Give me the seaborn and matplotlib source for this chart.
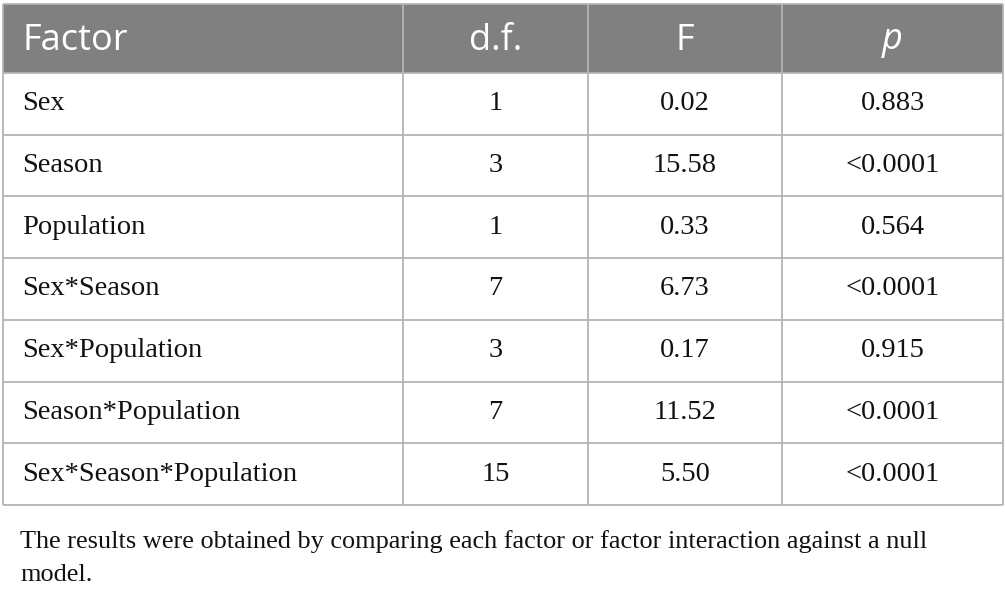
import matplotlib.pyplot as plt
import matplotlib.patches as mpatches
import seaborn as sns

sns.set_theme(style="white")

# données du tableau
columns = ["Factor", "d.f.", "F", "p"]
factors = ["Sex", "Season", "Population", "Sex*Season", "Sex*Population",
           "Season*Population", "Sex*Season*Population"]
df_values = [1, 3, 1, 7, 3, 7, 15]
f_values = ["0.02", "15.58", "0.33", "6.73", "0.17", "11.52", "5.50"]
p_values = ["0.883", "<0.0001", "0.564", "<0.0001", "0.915", "<0.0001", "<0.0001"]
caption = ("The results were obtained by comparing each factor or factor interaction against a null\n"
           "model.")

# mise en page (pixels)
col_edges = [3, 403, 588, 782, 1003]
header_top, header_bot = 4, 73
row_h = 61.7
grid_col = "#b4b4b4"
head_col = "#7f807f"

fig = plt.figure(figsize=(10.05, 5.95), dpi=100)
ax = fig.add_axes([0, 0, 1, 1])
ax.set_xlim(0, 1005)
ax.set_ylim(595, 0)
ax.axis("off")

n = len(factors)
table_bot = header_bot + n * row_h

# en-tête
ax.add_patch(mpatches.Rectangle((col_edges[0], header_top), col_edges[-1] - col_edges[0],
                                header_bot - header_top, facecolor=head_col, edgecolor="none"))

# lignes horizontales
for y in [header_top] + [header_bot + i * row_h for i in range(n + 1)]:
    ax.plot([col_edges[0], col_edges[-1]], [y, y], color=grid_col, lw=1.3, solid_capstyle="butt")
# lignes verticales
for x in col_edges:
    ax.plot([x, x], [header_top, table_bot], color=grid_col, lw=1.3, solid_capstyle="butt")

head_y = (header_top + header_bot) / 2 + 2
centers = [(col_edges[i] + col_edges[i + 1]) / 2 for i in range(4)]
hfont = dict(family="Open Sans", fontsize=26, color="white", va="center")
ax.text(col_edges[0] + 19, head_y, columns[0], ha="left", **hfont)
ax.text(centers[1], head_y, columns[1], ha="center", **hfont)
ax.text(centers[2], head_y, columns[2], ha="center", **hfont)
ax.text(centers[3], head_y, columns[3], ha="center", style="italic", **hfont)

bfont = dict(family="Liberation Serif", fontsize=20.5, color="#111111", va="center")
for i in range(n):
    y = header_bot + (i + 0.5) * row_h
    ax.text(col_edges[0] + 19, y, factors[i], ha="left", **bfont)
    ax.text(centers[1], y, str(df_values[i]), ha="center", **bfont)
    ax.text(centers[2], y, f_values[i], ha="center", **bfont)
    ax.text(centers[3], y, p_values[i], ha="center", **bfont)

ax.text(20, table_bot + 25, caption, ha="left", va="top", family="Liberation Serif",
        fontsize=18.9, color="#111111", linespacing=1.68)

fig.savefig("out.png", dpi=100)
